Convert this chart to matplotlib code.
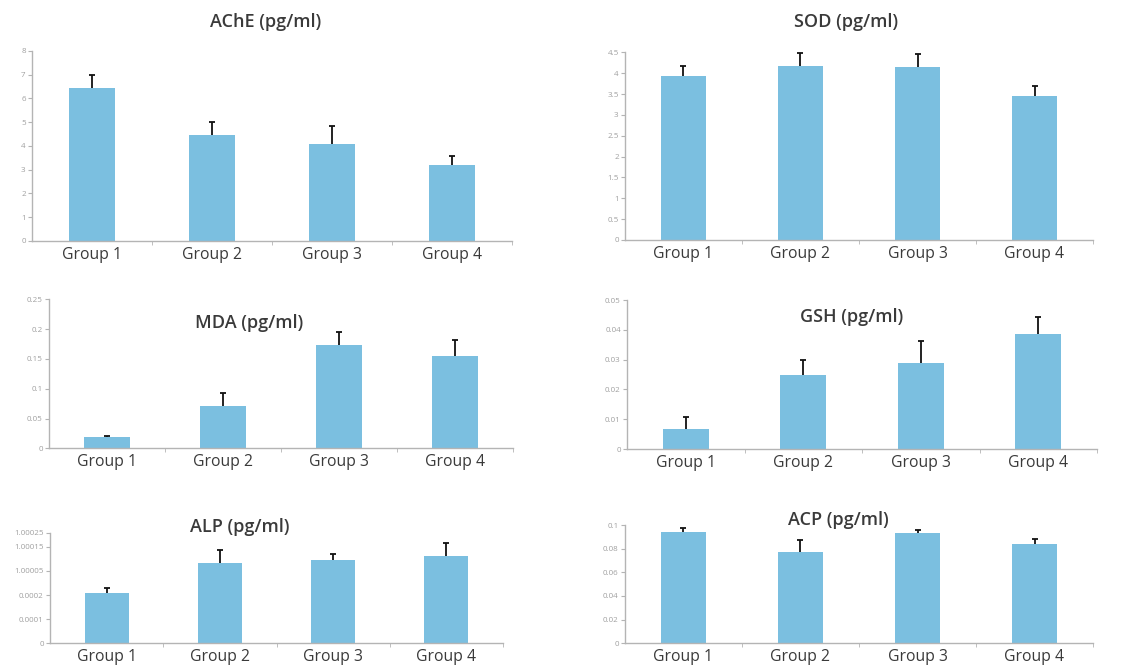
import matplotlib
matplotlib.use("Agg")
import matplotlib.pyplot as plt
import numpy as np

W, H = 1135, 668

groups = ["Group 1", "Group 2", "Group 3", "Group 4"]

ache = [6.43, 4.45, 4.07, 3.20]
ache_err = [0.56, 0.55, 0.77, 0.37]
sod = [3.93, 4.18, 4.14, 3.46]
sod_err = [0.25, 0.30, 0.32, 0.23]
mda = [0.0195, 0.071, 0.174, 0.155]
mda_err = [0.0015, 0.021, 0.021, 0.027]
gsh = [0.0067, 0.0249, 0.0290, 0.0386]
gsh_err = [0.0041, 0.0050, 0.0071, 0.0056]
alp = [0.000207, 0.000331, 0.000344, 0.000361]
alp_err = [0.000023, 0.000055, 0.000024, 0.000055]
acp = [0.0943, 0.0769, 0.0930, 0.0837]
acp_err = [0.0029, 0.0104, 0.0028, 0.0045]

titles = ["AChE (pg/ml)", "SOD (pg/ml)", "MDA (pg/ml)", "GSH (pg/ml)", "ALP (pg/ml)", "ACP (pg/ml)"]

ache_ticks = [0, 1, 2, 3, 4, 5, 6, 7, 8]
ache_labels = ["0", "1", "2", "3", "4", "5", "6", "7", "8"]
sod_ticks = [0, 0.5, 1, 1.5, 2, 2.5, 3, 3.5, 4, 4.5]
sod_labels = ["0", "0.5", "1", "1.5", "2", "2.5", "3", "3.5", "4", "4.5"]
mda_ticks = [0, 0.05, 0.1, 0.15, 0.2, 0.25]
mda_labels = ["0", "0.05", "0.1", "0.15", "0.2", "0.25"]
gsh_ticks = [0, 0.01, 0.02, 0.03, 0.04, 0.05]
gsh_labels = ["0", "0.01", "0.02", "0.03", "0.04", "0.05"]
alp_ticks = [0, 0.0001, 0.0002, 0.0003, 0.0004, 0.000458]
alp_labels = ["0", "0.0001", "0.0002", "1.00005", "1.00015", "1.00025"]
acp_ticks = [0, 0.02, 0.04, 0.06, 0.08, 0.1]
acp_labels = ["0", "0.02", "0.04", "0.06", "0.08", "0.1"]

BAR = "#7bbfe0"
SPINE = "#b4b4b4"
TICKLBL = "#a0a0a0"
TXT = "#3a3a3a"
FONT = "Open Sans"

# axes boxes in pixels: left, right, top, bottom
boxes = [
    (32, 512, 51, 241),
    (625, 1093, 52.3, 240),
    (49, 513, 299.3, 448.3),
    (627, 1097, 300, 449),
    (50, 503, 532.7, 643.3),
    (625, 1093, 525, 643.3),
]
title_pos = [(266, 22), (846, 22), (249, 323), (852, 317), (240, 527), (838, 520)]

panels = [
    (ache, ache_err, ache_ticks, ache_labels),
    (sod, sod_err, sod_ticks, sod_labels),
    (mda, mda_err, mda_ticks, mda_labels),
    (gsh, gsh_err, gsh_ticks, gsh_labels),
    (alp, alp_err, alp_ticks, alp_labels),
    (acp, acp_err, acp_ticks, acp_labels),
]

fig = plt.figure(figsize=(W / 100, H / 100), dpi=100)
fig.patch.set_facecolor("white")

x = np.arange(len(groups))
for i, ((vals, errs, ticks, tlabels), (l, r, t, b)) in enumerate(zip(panels, boxes)):
    ax = fig.add_axes([l / W, 1 - b / H, (r - l) / W, (b - t) / H])
    vals_a = np.asarray(vals)
    tops = vals_a + np.asarray(errs)
    ax.bar(x, vals, width=0.39, color=BAR, zorder=2)
    ax.vlines(x, vals_a, tops, colors="#111111", linewidth=1.3, zorder=3)
    ax.scatter(x, tops, marker="_", s=22, color="#111111", linewidths=1.3, zorder=3)
    ax.set_xlim(-0.5, len(groups) - 0.5)
    ax.set_ylim(ticks[0], ticks[-1])
    ax.set_yticks(ticks)
    ax.set_yticklabels(tlabels, fontsize=5.8, color=TICKLBL, family=FONT)
    ax.set_xticks(x)
    ax.set_xticklabels(groups, fontsize=11.3, color=TXT, family=FONT)
    ax.set_xticks(np.arange(0.5, len(groups), 1.0), minor=True)
    ax.tick_params(axis="x", which="major", length=0, pad=4)
    ax.tick_params(axis="x", which="minor", length=3, color=SPINE, direction="out")
    ax.tick_params(axis="y", length=3, color=SPINE, direction="out", pad=1.5)
    for s in ["top", "right"]:
        ax.spines[s].set_visible(False)
    for s in ["left", "bottom"]:
        ax.spines[s].set_color(SPINE)
        ax.spines[s].set_linewidth(1.0)
    ax.set_facecolor("none")
    tx, ty = title_pos[i]
    fig.text(tx / W, 1 - ty / H, titles[i], ha="center", va="center", fontsize=13,
             color=TXT, family=FONT, fontweight="semibold")

fig.savefig("out.png", dpi=100, facecolor="white")
